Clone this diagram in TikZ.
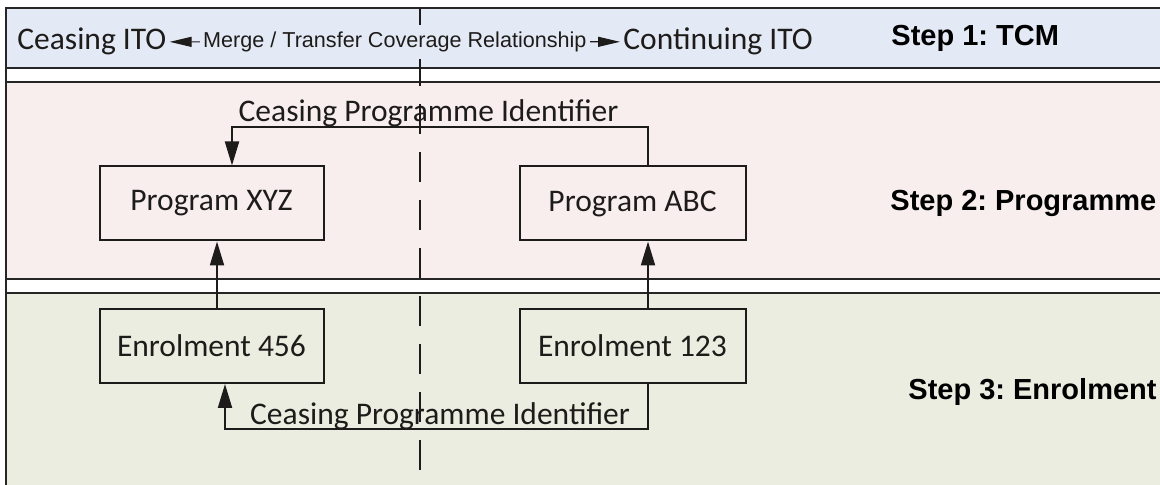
\documentclass[tikz,border=0pt]{standalone}
\usepackage{fontspec}
\setmainfont{Carlito}
\newfontfamily\arialfont{Liberation Sans}
\usepackage{tikz}
\usetikzlibrary{arrows.meta,positioning}
\definecolor{tcmblue}{RGB}{228,234,245}
\definecolor{progpink}{RGB}{248,238,238}
\definecolor{enrolgreen}{RGB}{234,237,224}
\definecolor{inkdark}{RGB}{30,28,26}
\frenchspacing
\tikzset{
    stage box/.style={
        draw=inkdark,line width=1pt,
        minimum width=112pt,minimum height=37pt,
        inner sep=0pt,text=inkdark,
        font=\fontsize{15.75}{18}\selectfont
    },
    band text/.style={inner sep=1.5pt,text=inkdark,font=\fontsize{15.75}{18}\selectfont},
    step label/.style={anchor=base west,inner sep=0pt,
        font=\arialfont\bfseries\fontsize{14.5}{17}\selectfont},
    >={Triangle[length=12pt,width=7pt]},
    flow/.style={draw=inkdark,line width=1pt,->},
    band line/.style={draw=black!85,line width=1pt},
}
\tikzstyle{merge arrow} = [draw=inkdark,line width=0.6pt,{Triangle[length=11pt,width=5pt]}-{Triangle[length=11pt,width=5pt]}]

\begin{document}
\begin{tikzpicture}[x=0.5pt,y=-0.5pt]
	\useasboundingbox (0,0) rectangle (1160,485);
	% swim lanes
	\fill[tcmblue] (6,8) rectangle (1160,68);
	\fill[progpink] (6,82) rectangle (1160,279);
	\fill[enrolgreen] (6,293) rectangle (1160,485);
	\foreach \y in {8,68,82,279,293}
	\draw[band line] (6,\y) -- (1162,\y);
	\draw[band line] (6,7.5) -- (6,487);
	\draw[inkdark,line width=0.7pt,dash pattern=on 15pt off 9pt] (420,8) -- (420,470);

	% step 1
	\node[band text,anchor=base west] (ceasing) at (14,50) {Ceasing ITO};
	\node[band text,anchor=base west] (continuing) at (620,50) {Continuing ITO};
	\draw[merge arrow] (ceasing) -- node[fill=tcmblue,inner xsep=1.5pt,text=inkdark,
		font=\arialfont\fontsize{10.8}{13}\selectfont] (mergelabel) {Merge / Transfer Coverage Relationship} (continuing);
	\node[step label] (step1) at (891,46) {Step 1: TCM};

	% step 2
	\node[stage box] (xyz) at (211.5,203.5) {Program XYZ};
	\node[stage box,minimum width=113pt] (abc) at (632.5,203.5) {Program ABC};
	\draw[flow] ([xshift=7.75pt]abc.north) -- ++(0,-38) -| node[pos=.25,anchor=base,yshift=3pt,xshift=-5.75pt,band text] (progid) {Ceasing Programme Identifier} ([xshift=10.25pt]xyz.north);
	\node[step label] (step2) at (890,211) {Step 2: Programme};

	% step 3
	\node[stage box] (e456) at (211.5,346) {Enrolment 456};
	\node[stage box,minimum width=113pt] (e123) at (632.5,346) {Enrolment 123};
	\draw[flow] ([xshift=2.75pt]e456.north) -- ([xshift=2.75pt]xyz.south);
	\draw[flow] ([xshift=7.75pt]e123.north) -- ([xshift=7.75pt]abc.south);
	\draw[flow] ([xshift=7.75pt]e123.south) -- ++(0,45) -| node[pos=.25,anchor=base,yshift=2.5pt,xshift=1.75pt,band text] (enrolid) {Ceasing Programme Identifier} ([xshift=6.75pt]e456.south);
	\node[step label] (step3) at (908,400) {Step 3: Enrolment};
\end{tikzpicture}
\end{document}
